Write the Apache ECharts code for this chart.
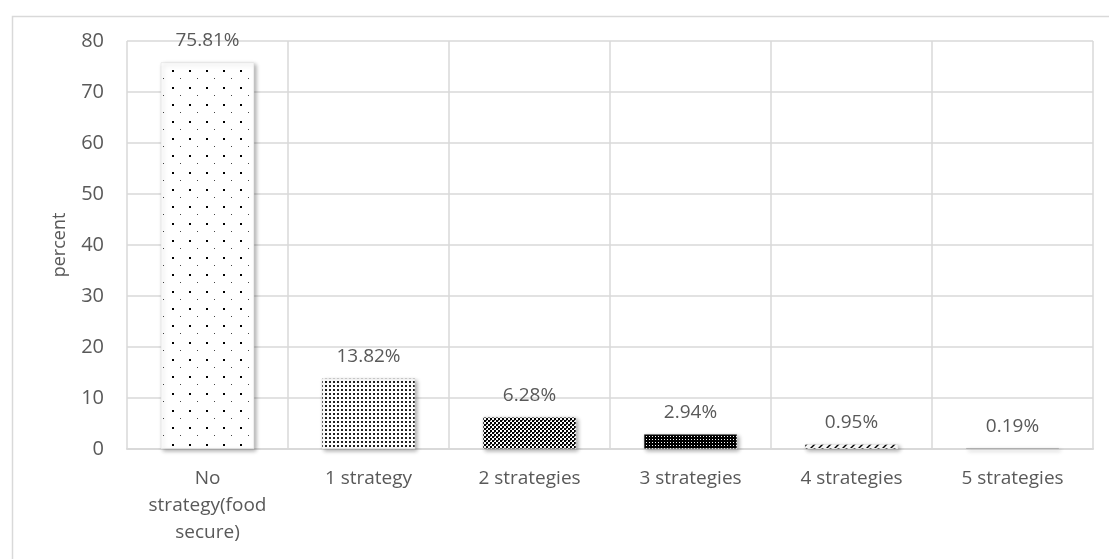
<!DOCTYPE html>
<html>
<head>
<meta charset="utf-8">
<script src="https://cdn.jsdelivr.net/npm/echarts@6/dist/echarts.min.js"></script>
<style>
  html, body { margin: 0; padding: 0; background: #fff; }
  #chart { width: 1109px; height: 559px; }
</style>
</head>
<body>
<div id="chart"></div>
<script>
const categories = ["No\nstrategy(food\nsecure)", "1 strategy", "2 strategies", "3 strategies", "4 strategies", "5 strategies"];
const values = [75.81, 13.82, 6.28, 2.94, 0.95, 0.19];
const yTicks = [0, 10, 20, 30, 40, 50, 60, 70, 80];

// small canvas tiles that imitate the Excel fill patterns
function tile(w, h, draw) {
  const c = document.createElement("canvas");
  c.width = w;
  c.height = h;
  const ctx = c.getContext("2d");
  ctx.fillStyle = "#fff";
  ctx.fillRect(0, 0, w, h);
  ctx.fillStyle = "#000";
  draw(ctx);
  return { image: c, repeat: "repeat" };
}

const patterns = [
  tile(17, 17, (ctx) => {
    ctx.fillRect(2, 2, 2, 2);
    ctx.fillStyle = "#444";
    ctx.fillRect(10, 10, 1, 1);
  }),
  tile(4, 4, (ctx) => {
    ctx.fillStyle = "#222";
    ctx.fillRect(1, 1, 2, 2);
  }),
  tile(4, 4, (ctx) => {
    ctx.fillRect(0, 0, 2, 2);
    ctx.fillRect(2, 2, 2, 2);
    ctx.fillStyle = "#555";
    ctx.fillRect(2, 0, 1, 1);
  }),
  tile(3, 3, (ctx) => {
    ctx.fillRect(0, 0, 3, 3);
    ctx.fillStyle = "#fff";
    ctx.fillRect(1, 1, 1, 1);
  }),
  tile(8, 4, (ctx) => {
    ctx.beginPath();
    ctx.moveTo(2, 4);
    ctx.lineTo(6, 0);
    ctx.lineTo(8, 0);
    ctx.lineTo(4, 4);
    ctx.closePath();
    ctx.fill();
  }),
  tile(4, 4, (ctx) => {
    ctx.fillRect(0, 0, 4, 2);
  }),
];

const textColor = "#595959";
const font = "'Open Sans', 'Liberation Sans', sans-serif";

const chart = echarts.init(document.getElementById("chart"));

const option = {
  animation: false,
  graphic: [
    {
      type: "rect",
      left: 10,
      top: 14,
      shape: { width: 1120, height: 600 },
      style: { fill: "none", stroke: "#d9d9d9", lineWidth: 1.5 },
      silent: true,
    },
  ],
  grid: { left: 127, right: 16, top: 41, bottom: 110 },
  xAxis: {
    type: "category",
    data: categories,
    axisLine: { lineStyle: { color: "#d9d9d9", width: 2 } },
    axisTick: { show: false },
    splitLine: { show: true, lineStyle: { color: "#d9d9d9", width: 1.5 } },
    axisLabel: {
      color: textColor,
      fontFamily: font,
      fontSize: 19,
      lineHeight: 27,
      margin: 16,
      interval: 0,
    },
  },
  yAxis: {
    type: "value",
    min: yTicks[0],
    max: yTicks[yTicks.length - 1],
    interval: 10,
    name: "percent",
    nameLocation: "middle",
    nameGap: 58,
    nameTextStyle: { color: textColor, fontFamily: font, fontSize: 18 },
    axisLine: { show: false },
    axisTick: { show: false },
    splitLine: { lineStyle: { color: "#d9d9d9", width: 1.5 } },
    axisLabel: { color: textColor, fontFamily: font, fontSize: 20, margin: 23 },
  },
  series: [
    {
      type: "bar",
      barWidth: "58%",
      data: values.map((v, i) => ({
        value: v,
        itemStyle: { color: patterns[i] },
      })),
      itemStyle: {
        borderColor: "#ddd",
        borderWidth: 0.5,
        shadowColor: "rgba(0,0,0,0.35)",
        shadowBlur: 4,
        shadowOffsetX: 2,
        shadowOffsetY: 2,
      },
      label: {
        show: true,
        position: "top",
        distance: 12,
        color: textColor,
        fontFamily: font,
        fontSize: 19,
        formatter: (p) => p.value.toFixed(2) + "%",
      },
    },
  ],
};

chart.setOption(option);
</script>
</body>
</html>
